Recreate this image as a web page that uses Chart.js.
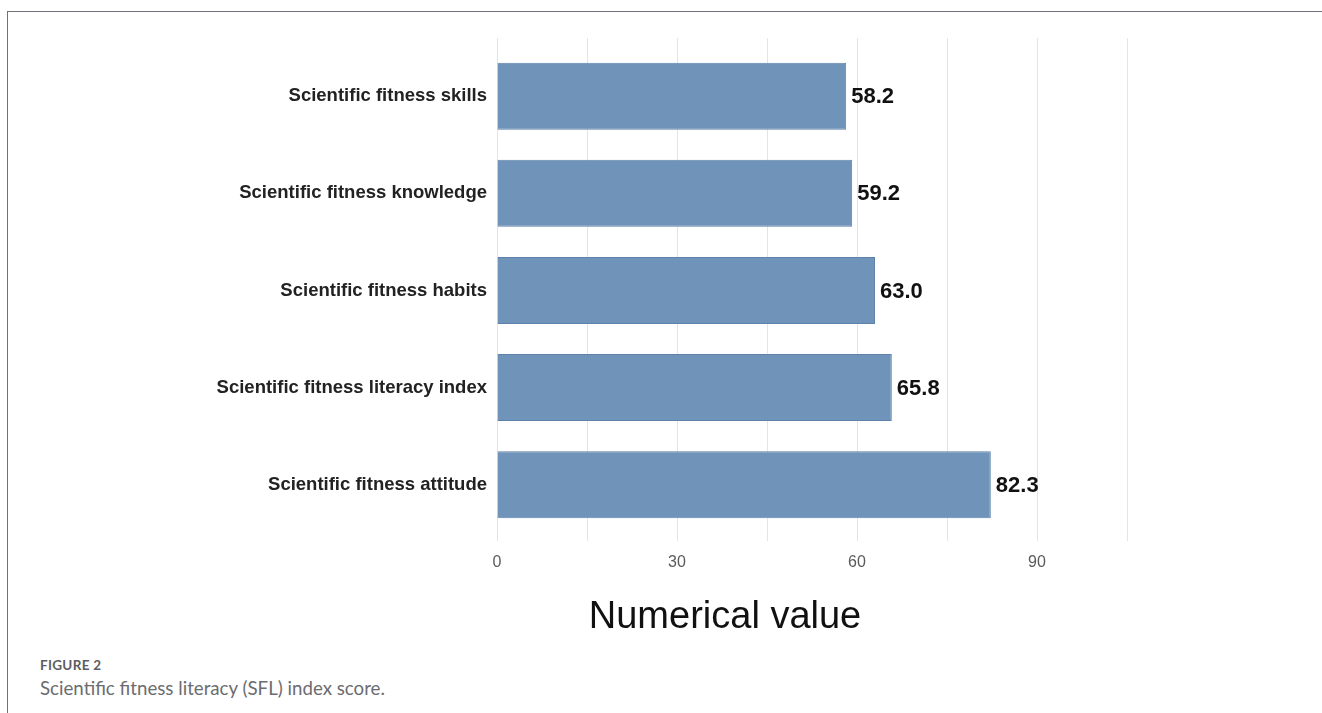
<!DOCTYPE html>
<html>
<head>
<meta charset="utf-8">
<script src="https://cdn.jsdelivr.net/npm/chart.js@4"></script>
<style>
  html, body { margin: 0; padding: 0; background: #fff; }
  body { width: 1322px; height: 713px; position: relative; overflow: hidden; }
  .frame { position: absolute; left: 7px; top: 11px; right: 0; bottom: 0;
           border-left: 1px solid #6f727b; border-top: 1px solid #6f727b; }
  #wrap { position: absolute; left: 8px; top: 12px; width: 1314px; height: 630px; }
  .fig-label { position: absolute; left: 40px; top: 657px; font-family: Lato, "Open Sans", sans-serif;
               font-size: 13.5px; font-weight: 700; color: #5c5d60; letter-spacing: 0.3px; }
  .fig-caption { position: absolute; left: 40px; top: 677px; font-family: Lato, "Open Sans", sans-serif;
                 font-size: 18.7px; color: #6b6c6f; }
</style>
</head>
<body>
<div class="frame"></div>
<div id="wrap"><canvas id="chart"></canvas></div>
<div class="fig-label">FIGURE 2</div>
<div class="fig-caption">Scientific fitness literacy (SFL) index score.</div>
<script>
// SFL dimension scores, listed top to bottom
const categories = [
  "Scientific fitness skills",
  "Scientific fitness knowledge",
  "Scientific fitness habits",
  "Scientific fitness literacy index",
  "Scientific fitness attitude"
];
const scores = [58.2, 59.2, 63.0, 65.8, 82.3];
const tickLabels = [0, 30, 60, 90];
const axisTitle = "Numerical value";

// value labels printed just past the end of each bar
const valueLabels = {
  id: "valueLabels",
  afterDatasetsDraw(chart) {
    const ctx = chart.ctx;
    const meta = chart.getDatasetMeta(0);
    ctx.save();
    ctx.font = "bold 22px 'Liberation Sans', Arial, sans-serif";
    ctx.fillStyle = "#111";
    ctx.textAlign = "left";
    ctx.textBaseline = "middle";
    meta.data.forEach((bar, i) => {
      ctx.fillText(scores[i].toFixed(1), bar.x + 5, bar.y + 1);
    });
    ctx.restore();
  }
};

// large x-axis title under the tick labels
const xTitle = {
  id: "xTitle",
  afterDraw(chart) {
    const ctx = chart.ctx;
    const xs = chart.scales.x;
    ctx.save();
    ctx.font = "38px 'Liberation Sans', Arial, sans-serif";
    ctx.fillStyle = "#111";
    ctx.textAlign = "center";
    ctx.textBaseline = "middle";
    ctx.fillText(axisTitle, xs.getPixelForValue(38), chart.chartArea.bottom + 77);
    ctx.restore();
  }
};

new Chart(document.getElementById("chart"), {
  type: "bar",
  data: {
    datasets: [{
      data: scores.map((v, i) => ({ x: v, y: i })),
      backgroundColor: "#6f93b9",
      borderColor: "#5d82ab",
      borderWidth: 1,
      categoryPercentage: 1,
      barPercentage: 0.69
    }]
  },
  options: {
    indexAxis: "y",
    responsive: true,
    maintainAspectRatio: false,
    animation: false,
    layout: { padding: { top: 26, right: 195, bottom: 0, left: 0 } },
    plugins: { legend: { display: false }, tooltip: { enabled: false } },
    scales: {
      x: {
        type: "linear",
        min: 0,
        max: 105,
        border: { display: false },
        grid: { color: "#e4e4e4", lineWidth: 1, drawTicks: false },
        ticks: {
          stepSize: 15,
          padding: 12,
          color: "#5a5a5a",
          font: { family: "'Liberation Sans', Arial, sans-serif", size: 16 },
          callback: (v) => tickLabels.includes(v) ? String(v) : ""
        },
        afterFit(scale) { scale.height = 101; }
      },
      y: {
        type: "linear",
        reverse: true,
        offset: false,
        min: -0.6,
        max: 4.58,
        border: { display: false },
        grid: { display: false, drawTicks: false, offset: false },
        afterBuildTicks(scale) {
          scale.ticks = categories.map((_, i) => ({ value: i }));
        },
        ticks: {
          padding: 10,
          color: "#222",
          font: { family: "'Liberation Sans', Arial, sans-serif", size: 18.5, weight: "bold" },
          callback: (v) => categories[v] ?? ""
        },
        afterFit(scale) { scale.width = 489; }
      }
    }
  },
  plugins: [valueLabels, xTitle]
});
</script>
</body>
</html>
